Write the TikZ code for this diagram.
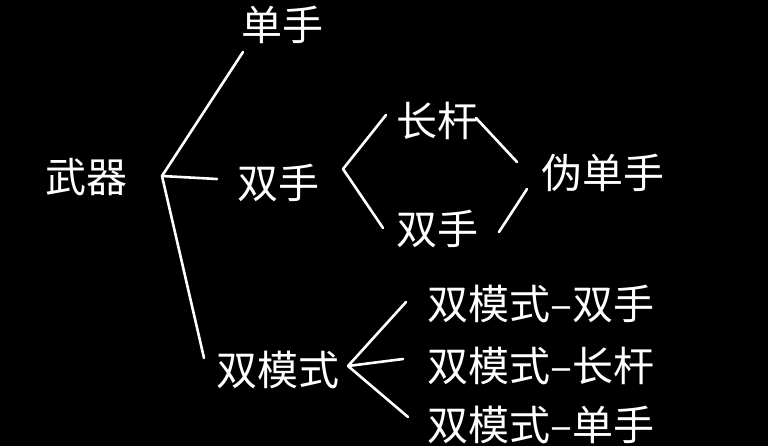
\documentclass[tikz,border=0pt]{standalone}
\usepackage{fontspec}
\newfontfamily\cjk{Noto Sans CJK SC}
\begin{document}
\begin{tikzpicture}[x=1pt,y=-1pt,
  lbl/.style={text=white,font=\cjk\fontsize{41}{49}\selectfont,anchor=base,inner sep=0pt},
  conn/.style={draw=white,line width=2.6pt,line cap=round}]
\fill[black] (0,0) rectangle (768,446);
\useasboundingbox (0,0) rectangle (768,446);
% labels
\node[lbl] (wq)  at (86,193)  {武器};
\node[lbl] (dsh) at (282,41)  {单手};
\node[lbl] (ssh) at (278,199) {双手};
\node[lbl] (smd) at (278,385) {双模式};
\node[lbl] (cg)  at (437,137) {长杆};
\node[lbl] (ss2) at (437,245) {双手};
\node[lbl] (wdx) at (603,189) {伪单手};
\node[lbl] (m1)  at (541,319) {双模式–双手};
\node[lbl] (m2)  at (541,381) {双模式–长杆};
\node[lbl] (m3)  at (541,440) {双模式–单手};
% connector points
\coordinate (o1) at (162,176);
\coordinate (e1) at (243,52);
\coordinate (e2) at (217,179);
\coordinate (e3) at (204,358);
\coordinate (o2) at (343,169);
\coordinate (e4) at (386,115);
\coordinate (e5) at (383,228);
\coordinate (a1) at (476,118);
\coordinate (b1) at (517,162);
\coordinate (a2) at (499,232);
\coordinate (b2) at (527,189);
\coordinate (o3) at (348,366);
\coordinate (e6) at (406,302);
\coordinate (e7) at (403,359);
\coordinate (e8) at (408,417);
\draw[conn] (o1) -- (e1);
\draw[conn] (o1) -- (e2);
\draw[conn] (o1) -- (e3);
\draw[conn] (o2) -- (e4);
\draw[conn] (o2) -- (e5);
\draw[conn] (a1) -- (b1);
\draw[conn] (a2) -- (b2);
\draw[conn] (o3) -- (e6);
\draw[conn] (o3) -- (e7);
\draw[conn] (o3) -- (e8);
\end{tikzpicture}
\end{document}
